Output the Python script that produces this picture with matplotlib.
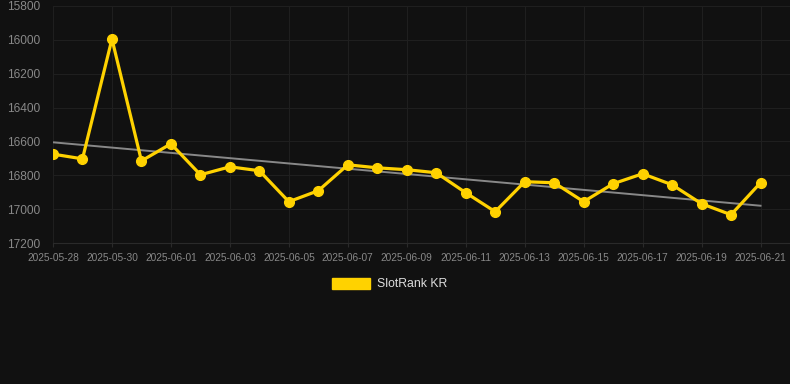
import numpy as np
import pandas as pd
import matplotlib
matplotlib.use("Agg")
import matplotlib.pyplot as plt
import matplotlib.dates as mdates
from matplotlib.patches import Patch

# data
dates = pd.date_range("2025-05-28", "2025-06-21", freq="D")
ranks = [16675, 16703, 15995, 16715, 16614, 16797, 16750, 16773, 16956, 16891,
         16738, 16756, 16767, 16785, 16903, 17015, 16838, 16844, 16956, 16850,
         16791, 16856, 16968, 17033, 16844]
y_ticks = [15800, 16000, 16200, 16400, 16600, 16800, 17000, 17200]
tick_dates = dates[::2]

bg = "#111111"
gold = "#FFD200"

plt.rcParams["font.family"] = ["Liberation Sans", "DejaVu Sans"]

fig = plt.figure(figsize=(7.9, 3.84), dpi=100, facecolor=bg)
ax = fig.add_axes([53 / 790, 1 - 243 / 384, 1 - 53 / 790, (243 - 6) / 384])
ax.set_facecolor(bg)

x = mdates.date2num(dates)
# trend line from linear fit
k, b = np.polyfit(x - x[0], ranks, 1)
ax.plot(dates, k * (x - x[0]) + b, color="#888888", linewidth=1.4, zorder=2)

ax.plot(dates, ranks, color=gold, linewidth=2.3, marker="o", markersize=7,
        zorder=3)

ax.set_ylim(17200, 15800)
ax.set_yticks(y_ticks)
ax.set_xlim(x[0], x[0] + 25)
ax.set_xticks(tick_dates)
ax.xaxis.set_major_formatter(mdates.DateFormatter("%Y-%m-%d"))

ax.grid(True, color="#1f1f1f", linewidth=0.8)
for s in ax.spines.values():
    s.set_visible(False)
ax.spines["bottom"].set_visible(True)
ax.spines["bottom"].set_color("#2a2a2a")
ax.tick_params(axis="y", colors="#888888", labelsize=8.6, length=0, pad=9)
ax.tick_params(axis="x", colors="#888888", labelsize=7.3, length=3, pad=4,
               color="#2a2a2a")

handle = Patch(facecolor=gold, edgecolor=gold)
leg = fig.legend([handle], ["SlotRank KR"], loc="center",
                 bbox_to_anchor=(390 / 790, 1 - 284 / 384), frameon=False,
                 fontsize=8.8, handlelength=3.1, handleheight=1.0,
                 handletextpad=0.6, labelcolor="#dddddd")

fig.savefig("out.png", dpi=100, facecolor=bg)
